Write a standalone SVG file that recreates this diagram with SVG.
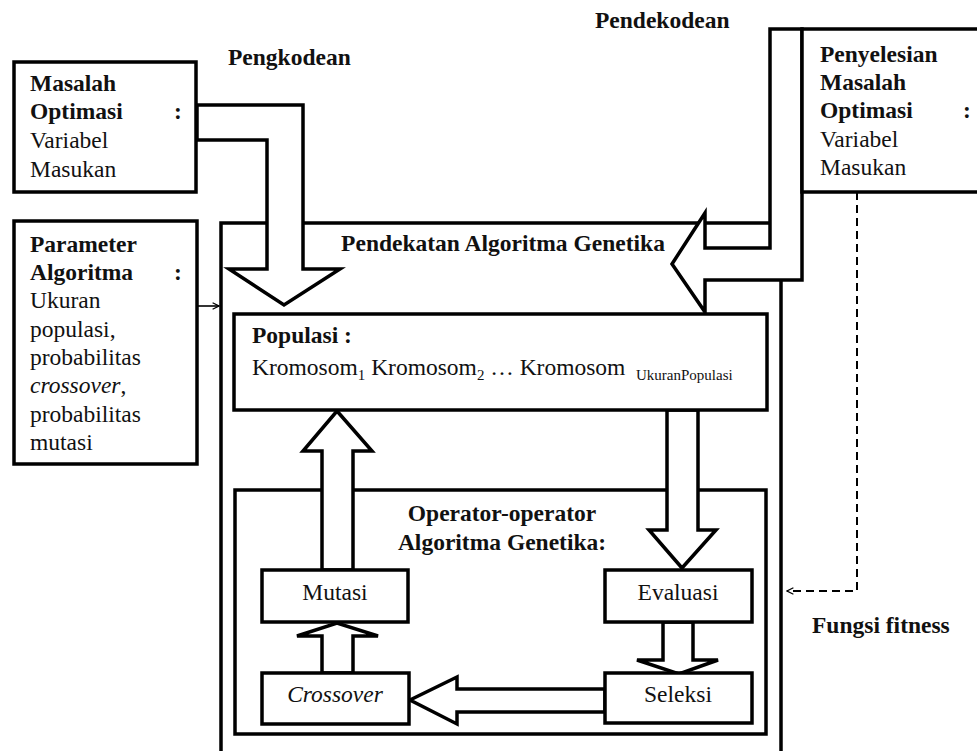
<svg xmlns="http://www.w3.org/2000/svg" width="977" height="751" viewBox="0 0 977 751">
<style>
text{font-family:"Liberation Serif","Times New Roman",serif;font-size:23.5px;fill:#111}
.b{font-weight:bold}
.i{font-style:italic}
.box{fill:#fff;stroke:#000;stroke-width:3.5}
.blk{fill:#fff;stroke:#000;stroke-width:3.5;stroke-linejoin:miter}
.mid{text-anchor:middle}
</style>
<defs>
<marker id="open" viewBox="0 0 10 10" refX="9" refY="5" markerWidth="8" markerHeight="8" orient="auto" markerUnits="userSpaceOnUse">
<path d="M1,1 L9,5 L1,9" fill="none" stroke="#000" stroke-width="1.6"/>
</marker>
</defs>
<rect width="977" height="751" fill="#fff"/>
<g id="main">
<rect class="box" x="221" y="223" width="560" height="560"/>
<text class="b mid" x="503" y="251">Pendekatan Algoritma Genetika</text>
</g>
<g id="operators">
<rect class="box" x="235" y="490" width="531" height="244"/>
<text class="b mid" x="502" y="521">Operator-operator</text>
<text class="b mid" x="502" y="550">Algoritma Genetika:</text>
</g>
<g id="connectors">
<polygon class="blk" points="197,105 303,105 303,269 340,269 284,305 229,269 267,269 267,140 197,140"/>
<polygon class="blk" points="770,29 802,29 802,280 705,280 705,312 672,264 705,213 705,248 770,248"/>
<polygon class="blk" points="322,570 322,451 303,451 337,411 372,451 353,451 353,570"/>
<polygon class="blk" points="667,410 667,530 649,530 682,568 716,530 698,530 698,410"/>
<polygon class="blk" points="663,622 663,660 637,660 679,674 718,660 693,660 693,622"/>
<polygon class="blk" points="322,673 322,636 297,636 337,623 378,636 353,636 353,673"/>
<polygon class="blk" points="605,689 457,689 457,677 410,700 457,724 457,712 605,712"/>
<line x1="198" y1="306" x2="219" y2="306" stroke="#000" stroke-width="1.6" marker-end="url(#open)"/>
<polyline points="857,192 857,591 787,591" fill="none" stroke="#000" stroke-width="2" stroke-dasharray="8,5" marker-end="url(#open)"/>
<text class="b" x="228" y="65">Pengkodean</text>
<text class="b" x="595" y="28">Pendekodean</text>
<text class="b" x="812" y="633">Fungsi fitness</text>
</g>
<g id="populasi">
<rect class="box" x="234" y="314" width="533" height="96"/>
<text class="b" x="252" y="343">Populasi :</text>
<text x="252" y="375">Kromosom<tspan font-size="15" dy="5">1</tspan><tspan dy="-5"> Kromosom</tspan><tspan font-size="15" dy="5">2</tspan><tspan dy="-5"> … Kromosom </tspan><tspan x="636" font-size="15" dy="5">UkuranPopulasi</tspan></text>
</g>
<g id="mutasi">
<rect class="box" x="262" y="570" width="146" height="52"/>
<text class="mid" x="335" y="600">Mutasi</text>
</g>
<g id="evaluasi">
<rect class="box" x="605" y="570" width="147" height="52"/>
<text class="mid" x="678" y="600">Evaluasi</text>
</g>
<g id="crossover">
<rect class="box" x="262" y="673" width="147" height="51"/>
<text class="mid i" x="335" y="702">Crossover</text>
</g>
<g id="seleksi">
<rect class="box" x="605" y="673" width="147" height="50"/>
<text class="mid" x="678" y="702">Seleksi</text>
</g>
<g id="masalah">
<rect class="box" x="14" y="62" width="182" height="130"/>
<text class="b" x="30" y="91">Masalah</text>
<text class="b" x="30" y="119">Optimasi</text>
<text class="b" x="174" y="119">:</text>
<text x="30" y="148">Variabel</text>
<text x="30" y="177">Masukan</text>
</g>
<g id="penyelesian">
<rect class="box" x="802" y="29" width="190" height="163"/>
<text class="b" x="820" y="62">Penyelesian</text>
<text class="b" x="820" y="90">Masalah</text>
<text class="b" x="820" y="118">Optimasi</text>
<text class="b" x="963" y="118">:</text>
<text x="820" y="147">Variabel</text>
<text x="820" y="175">Masukan</text>
</g>
<g id="parameter">
<rect class="box" x="14" y="221" width="183" height="243"/>
<text class="b" x="30" y="252">Parameter</text>
<text class="b" x="30" y="280">Algoritma</text>
<text class="b" x="174" y="280">:</text>
<text x="30" y="308">Ukuran</text>
<text x="30" y="337">populasi,</text>
<text x="30" y="365">probabilitas</text>
<text x="30" y="393"><tspan class="i">crossover</tspan>,</text>
<text x="30" y="422">probabilitas</text>
<text x="30" y="450">mutasi</text>
</g>
</svg>
